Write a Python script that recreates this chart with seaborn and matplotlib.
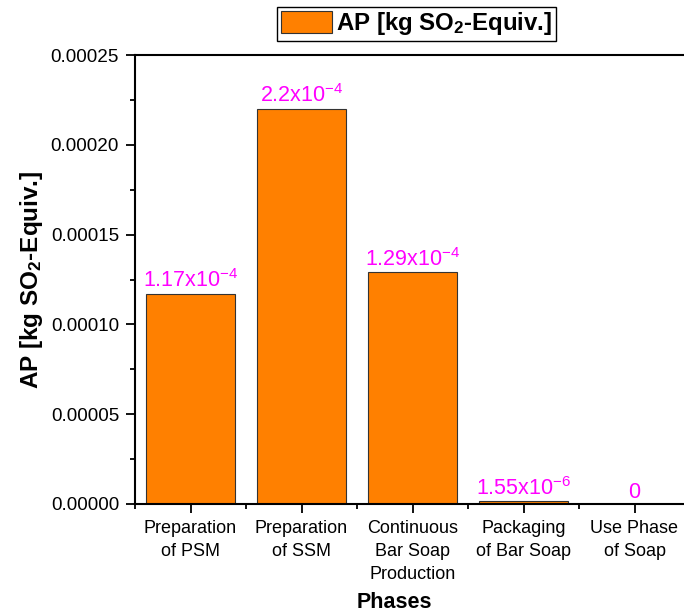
import matplotlib
matplotlib.use('Agg')
import matplotlib.pyplot as plt
import seaborn as sns
import pandas as pd
from matplotlib.ticker import FormatStrFormatter, MultipleLocator, FixedLocator
from matplotlib.patches import Patch

phases = ['Preparation\nof PSM', 'Preparation\nof SSM', 'Continuous\nBar Soap\nProduction',
          'Packaging\nof Bar Soap', 'Use Phase\nof Soap']
ap_values = [1.17e-4, 2.2e-4, 1.29e-4, 1.55e-6, 0.0]
value_labels = [r'1.17x10$^{-4}$', r'2.2x10$^{-4}$', r'1.29x10$^{-4}$', r'1.55x10$^{-6}$', '0']

sns.set_style('ticks')
plt.rcParams['font.family'] = ['Liberation Sans', 'DejaVu Sans']
plt.rcParams['mathtext.fontset'] = 'custom'
plt.rcParams['mathtext.rm'] = 'Liberation Sans'
plt.rcParams['mathtext.it'] = 'Liberation Sans'
plt.rcParams['mathtext.bf'] = 'Liberation Sans:bold'
plt.rcParams['text.color'] = 'black'
plt.rcParams['axes.labelcolor'] = 'black'

df = pd.DataFrame({'Phase': phases, 'AP': ap_values})

fig = plt.figure(figsize=(6.84, 6.14), dpi=100)
ax = fig.add_axes([135 / 684, 1 - 504 / 614, 555 / 684, 449 / 614])

bar_color = '#FF8000'
sns.barplot(data=df, x='Phase', y='AP', color=bar_color, saturation=1, width=0.8,
            edgecolor='#333333', linewidth=0.8, ax=ax)

for i, (v, lab) in enumerate(zip(ap_values, value_labels)):
    ax.annotate(lab, (i, v), xytext=(0, 1), textcoords='offset points',
                ha='center', va='bottom', color='#FF00FF', fontsize=15.5)

ax.set_xlim(-0.5, 4.5)
ax.set_ylim(0, 0.00025)
ax.yaxis.set_major_locator(MultipleLocator(0.00005))
ax.yaxis.set_minor_locator(MultipleLocator(0.000025))
ax.yaxis.set_major_formatter(FormatStrFormatter('%.5f'))
ax.xaxis.set_minor_locator(FixedLocator([-0.5, 0.5, 1.5, 2.5, 3.5, 4.5]))

ax.tick_params(axis='both', which='major', direction='out', length=6.5, width=1.3,
               color='black', labelcolor='black')
ax.tick_params(axis='both', which='minor', direction='out', length=3.5, width=1.3,
               color='black')
ax.tick_params(axis='x', which='major', pad=5, labelsize=13)
ax.tick_params(axis='y', which='major', pad=5, labelsize=13.6)
for t in ax.get_xticklabels():
    t.set_linespacing(1.45)

for s in ['left', 'bottom', 'top', 'right']:
    ax.spines[s].set_visible(True)
    ax.spines[s].set_linewidth(1.5)
    ax.spines[s].set_color('black')

ax.set_xlabel('Phases', fontsize=15.5, fontweight='bold')
ax.set_ylabel(r'AP [kg SO$_\mathbf{2}$-Equiv.]', fontsize=17.5, fontweight='bold')
ax.xaxis.set_label_coords(0.467, -0.196)
ax.yaxis.set_label_coords(-0.162, 0.5)

handle = Patch(facecolor=bar_color, edgecolor='#333333', linewidth=0.8)
leg = fig.legend([handle], [r'AP [kg SO$_\mathbf{2}$-Equiv.]'], loc='upper center',
                 bbox_to_anchor=(0.609, 0.989), fancybox=False, framealpha=1,
                 edgecolor='black', prop={'size': 17.3, 'weight': 'bold'},
                 handlelength=2.15, handleheight=1.05, borderpad=0.15, handletextpad=0.17,
                 borderaxespad=0)
leg.get_frame().set_linewidth(1.0)

fig.savefig('out.png', dpi=100)
